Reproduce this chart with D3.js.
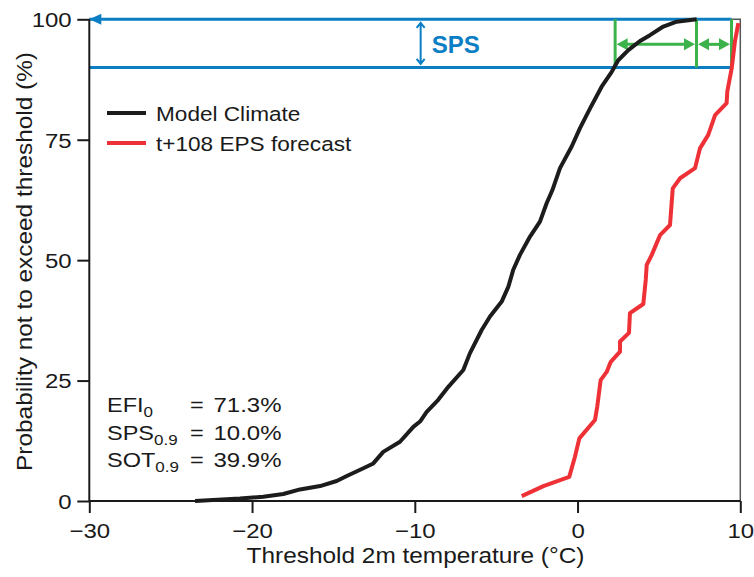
<!DOCTYPE html>
<html>
<head>
<meta charset="utf-8">
<script src="https://cdn.jsdelivr.net/npm/d3@7"></script>
<style>
  html, body { margin: 0; padding: 0; background: #fff; }
  svg { display: block; font-family: "Liberation Sans", Arial, Helvetica, sans-serif; }
</style>
</head>
<body>
<svg id="chart" width="754" height="577"></svg>
<script>
// ---------------- data ----------------
const climateTemp = [-23.5, -20.74, -19.31, -18.08, -17.05, -15.82, -14.8, -14.18, -13.16, -12.55, -11.94, -10.91, -10.09, -9.68, -9.27, -8.56, -7.94, -7.02, -6.61, -5.89, -5.38, -4.66, -4.25, -3.95, -3.54, -2.92, -2.31, -1.9, -1.55, -1.08, -0.36, 0.15, 0.77, 1.48, 2.10, 2.5, 3.12, 3.84, 4.45, 5.27, 6.09, 7.32];
const climateProb = [0, 0.5, 0.9, 1.45, 2.4, 3.1, 4.15, 5.2, 6.8, 7.8, 10.2, 12.3, 15.4, 16.5, 18.5, 21.0, 23.7, 27.2, 30.7, 35.5, 38.3, 41.4, 44.5, 48.0, 51.1, 54.9, 58.0, 61.8, 64.5, 69.1, 73.6, 77.4, 81.5, 86.0, 89.1, 91.5, 93.6, 95.5, 96.7, 98.5, 99.5, 100];

const epsTemp = [-3.43, -2.10, -0.51, -0.16, 0.11, 1.07, 1.21, 1.42, 1.79, 2.04, 2.61, 2.61, 3.16, 3.22, 4.04, 4.19, 4.25, 4.56, 5.07, 5.68, 5.85, 6.30, 7.22, 7.52, 8.03, 8.45, 9.16, 9.2, 9.47, 9.67, 9.88];
const epsProb = [1.0, 3.1, 5.0, 9.2, 13.0, 16.8, 19.6, 25.1, 26.8, 28.9, 31.0, 33.1, 34.9, 39.0, 40.9, 45.9, 49.0, 51.1, 55.2, 57.3, 64.9, 67.0, 69.1, 73.2, 76.0, 80.1, 82.6, 85.0, 89.8, 95.4, 99.2];

const xTicks = [-30, -20, -10, 0, 10];
const xMinorTicks = [-25, -15, -5, 5];
const yTicks = [0, 25, 50, 75, 100];
const yMinorTicks = [5, 10, 15, 20, 30, 35, 40, 45, 55, 60, 65, 70, 80, 85, 90, 95];

const spsLevels = [90, 100];       // SPS band (%)
const spsBandEnd = 9.46;           // right end of blue lines (°C)
const spsArrowX = -9.64;           // SPS double arrow position (°C)
const sotMarks = [2.31, 7.31, 9.46]; // green vertical markers (°C)
const sotArrowLevel = 94.8;        // green arrow level (%)

const seriesNames = ["Model Climate", "t+108 EPS forecast"];
const seriesColors = ["#1c1c1c", "#ee3136"];
const statNames = [["EFI", "0"], ["SPS", "0.9"], ["SOT", "0.9"]];
const statValues = ["71.3%", "10.0%", "39.9%"];

// ---------------- setup ----------------
const svg = d3.select("#chart");
const x = d3.scaleLinear().domain([-30, 10]).range([89.3, 740.3]);
const y = d3.scaleLinear().domain([0, 100]).range([501, 19.3]);
const SY = 0.87;
const BLUE = "#0b7ec4", GREEN = "#3bb24a";

function txt(g, tx, ty, s, size, anchor) {
  return g.append("text")
    .attr("transform", `translate(${tx},${ty}) scale(1,${SY})`)
    .attr("font-size", size)
    .attr("text-anchor", anchor || "start")
    .attr("fill", "#1a1a1a")
    .text(s);
}

// frame (top & right)
svg.append("path")
  .attr("d", `M${x(-30)},${y(100)}H${x(10)}V${y(0)}`)
  .attr("fill", "none").attr("stroke", "#555").attr("stroke-width", 1.5);

// ---------------- SPS band ----------------
const gBlue = svg.append("g");
spsLevels.forEach(l => {
  gBlue.append("line")
    .attr("x1", x(-30)).attr("x2", x(spsBandEnd))
    .attr("y1", y(l)).attr("y2", y(l))
    .attr("stroke", BLUE).attr("stroke-width", 3);
});
// left arrowhead at 100%
gBlue.append("path")
  .attr("d", `M${x(-30)},${y(100)}l12,-5.5v11z`)
  .attr("fill", BLUE);
// SPS double arrow
const ax = x(spsArrowX), ya = y(100) + 3.5, yb = y(90) - 3.5;
gBlue.append("path")
  .attr("d", `M${ax},${ya}V${yb}M${ax - 4},${ya + 5}L${ax},${ya}L${ax + 4},${ya + 5}M${ax - 4},${yb - 5}L${ax},${yb}L${ax + 4},${yb - 5}`)
  .attr("fill", "none").attr("stroke", BLUE).attr("stroke-width", 2);
gBlue.append("text")
  .attr("x", ax + 11).attr("y", 52.5)
  .attr("font-size", 24).attr("font-weight", "bold")
  .attr("fill", BLUE).text("SPS");

// ---------------- SOT markers ----------------
const gGreen = svg.append("g");
sotMarks.forEach(m => {
  gGreen.append("line")
    .attr("x1", x(m)).attr("x2", x(m))
    .attr("y1", y(100)).attr("y2", y(90))
    .attr("stroke", GREEN).attr("stroke-width", 3);
});
const ay = y(sotArrowLevel);
for (let i = 0; i < sotMarks.length - 1; i++) {
  const a = x(sotMarks[i]) + 1.5, b = x(sotMarks[i + 1]) - 1.5;
  gGreen.append("line").attr("x1", a + 6).attr("x2", b - 6).attr("y1", ay).attr("y2", ay)
    .attr("stroke", GREEN).attr("stroke-width", 3);
  gGreen.append("path").attr("d", `M${a},${ay}l11,-6v12z`).attr("fill", GREEN);
  gGreen.append("path").attr("d", `M${b},${ay}l-11,-6v12z`).attr("fill", GREEN);
}

// ---------------- curves ----------------
const line = d3.line().x(d => x(d[0])).y(d => y(d[1]));
const climate = climateTemp.map((t, i) => [t, climateProb[i]]);
const eps = epsTemp.map((t, i) => [t, epsProb[i]]);
svg.append("path").datum(climate).attr("d", line)
  .attr("fill", "none").attr("stroke", seriesColors[0]).attr("stroke-width", 4)
  .attr("stroke-linejoin", "round");
svg.append("path").datum(eps).attr("d", line)
  .attr("fill", "none").attr("stroke", seriesColors[1]).attr("stroke-width", 4)
  .attr("stroke-linejoin", "round");

// ---------------- axes ----------------
const gx = svg.append("g").attr("transform", `translate(0,${y(0)})`);
gx.call(d3.axisBottom(x).tickValues(xMinorTicks).tickSize(10).tickFormat(""));
gx.call(d3.axisBottom(x).tickValues(xTicks).tickSize(12).tickFormat(d3.format("d")));
const gy = svg.append("g").attr("transform", `translate(${x(-30)},0)`);
gy.call(d3.axisLeft(y).tickValues(yMinorTicks).tickSize(8).tickFormat(""));
gy.call(d3.axisLeft(y).tickValues(yTicks).tickSize(12));
[gx, gy].forEach(g => {
  g.selectAll(".domain").attr("stroke", "#1a1a1a").attr("stroke-width", 2);
  g.selectAll(".tick line").attr("stroke", "#1a1a1a").attr("stroke-width", 2);
  g.selectAll("text").attr("font-size", 24).attr("fill", "#1a1a1a")
    .attr("font-family", "'Liberation Sans', Arial, sans-serif");
});
gx.select(".domain").attr("d", `M${x(-30)},0H${x(10)}`);
gy.select(".domain").attr("d", `M0,${y(0)}V${y(100)}`);
gx.selectAll(".tick text").attr("y", 0).attr("dy", 0)
  .attr("transform", `translate(0,37) scale(1,${SY})`);
gy.selectAll(".tick text").attr("x", 0).attr("dy", 0)
  .attr("transform", `translate(-17.6,7.4) scale(1,${SY})`);

// axis titles
txt(svg, 415.5, 563, "Threshold 2m temperature (°C)", 24.4, "middle");
svg.append("text")
  .attr("transform", `translate(32,261.5) rotate(-90) scale(1,${SY})`)
  .attr("font-size", 24.4).attr("text-anchor", "middle").attr("fill", "#1a1a1a")
  .text("Probability not to exceed threshold (%)");

// ---------------- legend ----------------
const legY = [113, 143];
seriesNames.forEach((n, i) => {
  svg.append("line").attr("x1", 107).attr("x2", 146).attr("y1", legY[i]).attr("y2", legY[i])
    .attr("stroke", seriesColors[i]).attr("stroke-width", 4);
  txt(svg, 156, legY[i] + 7.5, n, 22.6);
});

// ---------------- statistics text ----------------
const statY = [411.7, 440, 467.3];
statNames.forEach((s, i) => {
  const t = txt(svg, 107, statY[i], "", 23.5);
  t.append("tspan").text(s[0]);
  t.append("tspan").attr("font-size", 17).attr("dy", 5.8).text(s[1]);
  txt(svg, 190, statY[i], "=", 23.5);
  txt(svg, 213.5, statY[i], statValues[i], 24);
});
</script>
</body>
</html>
